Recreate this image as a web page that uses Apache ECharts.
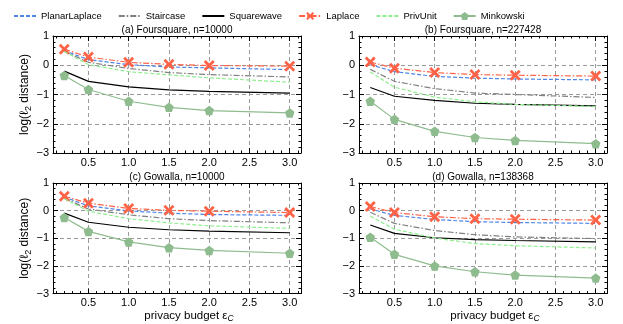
<!DOCTYPE html>
<html><head><meta charset="utf-8">
<script src="https://cdn.jsdelivr.net/npm/echarts@6/dist/echarts.min.js"></script>
<style>html,body{margin:0;padding:0;background:#fff}#c{width:623px;height:324px}</style>
</head><body><div id="c"></div>
<script>
const eps = [0.2, 0.5, 1.0, 1.5, 2.0, 3.0];
const xTickLabels = [0.5, 1.0, 1.5, 2.0, 2.5, 3.0];
const xMinorTicks = [0.1,0.2,0.3,0.4,0.6,0.7,0.8,0.9,1.1,1.2,1.3,1.4,1.6,1.7,1.8,1.9,2.1,2.2,2.3,2.4,2.6,2.7,2.8,2.9,3.1];
const yTickLabels = [-3, -2, -1, 0, 1];
const panelTitles = ['(a) Foursquare, n=10000', '(b) Foursquare, n=227428', '(c) Gowalla, n=10000', '(d) Gowalla, n=138368'];
const seriesNames = ['PlanarLaplace', 'Staircase', 'Squarewave', 'Laplace', 'PrivUnit', 'Minkowski'];

// (a) Foursquare, n=10000
const a_PlanarLaplace = [0.50, 0.19, 0.02, -0.06, -0.09, -0.15];
const a_Staircase     = [0.48, 0.10, -0.11, -0.25, -0.32, -0.40];
const a_Squarewave    = [-0.20, -0.55, -0.74, -0.84, -0.89, -0.95];
const a_Laplace       = [0.55, 0.28, 0.10, 0.03, -0.01, -0.03];
const a_PrivUnit      = [0.47, 0.02, -0.22, -0.33, -0.43, -0.58];
const a_Minkowski     = [-0.35, -0.83, -1.23, -1.44, -1.55, -1.63];
// (b) Foursquare, n=227428
const b_PlanarLaplace = [0.02, -0.22, -0.38, -0.44, -0.47, -0.50];
const b_Staircase     = [-0.14, -0.55, -0.80, -0.95, -1.00, -1.10];
const b_Squarewave    = [-0.76, -1.06, -1.20, -1.30, -1.34, -1.39];
const b_Laplace       = [0.11, -0.10, -0.25, -0.32, -0.34, -0.37];
const b_PrivUnit      = [-0.23, -0.75, -1.09, -1.25, -1.34, -1.41];
const b_Minkowski     = [-1.23, -1.85, -2.26, -2.47, -2.57, -2.68];
// (c) Gowalla, n=10000
const c_PlanarLaplace = [0.49, 0.17, -0.01, -0.09, -0.14, -0.17];
const c_Staircase     = [0.45, 0.06, -0.15, -0.29, -0.36, -0.44];
const c_Squarewave    = [-0.09, -0.42, -0.60, -0.69, -0.74, -0.80];
const c_Laplace       = [0.52, 0.27, 0.08, 0.01, -0.02, -0.07];
const c_PrivUnit      = [0.43, -0.02, -0.29, -0.44, -0.55, -0.64];
const c_Minkowski     = [-0.25, -0.75, -1.13, -1.34, -1.44, -1.54];
// (d) Gowalla, n=138368
const d_PlanarLaplace = [0.06, -0.17, -0.32, -0.40, -0.43, -0.46];
const d_Staircase     = [-0.06, -0.46, -0.72, -0.87, -0.95, -1.01];
const d_Squarewave    = [-0.52, -0.82, -0.98, -1.05, -1.08, -1.13];
const d_Laplace       = [0.15, -0.07, -0.22, -0.29, -0.31, -0.34];
const d_PrivUnit      = [-0.20, -0.67, -0.99, -1.19, -1.27, -1.35];
const d_Minkowski     = [-0.96, -1.58, -2.00, -2.21, -2.33, -2.44];

const panelData = [
  [a_PlanarLaplace, a_Staircase, a_Squarewave, a_Laplace, a_PrivUnit, a_Minkowski],
  [b_PlanarLaplace, b_Staircase, b_Squarewave, b_Laplace, b_PrivUnit, b_Minkowski],
  [c_PlanarLaplace, c_Staircase, c_Squarewave, c_Laplace, c_PrivUnit, c_Minkowski],
  [d_PlanarLaplace, d_Staircase, d_Squarewave, d_Laplace, d_PrivUnit, d_Minkowski]
];

const FONT = '"Liberation Sans", Arial, Helvetica, sans-serif';
const xSym = 'path://M1.8,0 L5,3.2 L8.2,0 L10,1.8 L6.8,5 L10,8.2 L8.2,10 L5,6.8 L1.8,10 L0,8.2 L3.2,5 L0,1.8 Z';
const pentSym = 'path://M5,0 L10,3.7 L8.1,10 L1.9,10 L0,3.7 Z';
const styles = [
  {color: '#4f86e8', type: [4, 2], symbol: 'none'},
  {color: '#808080', type: [6, 2, 1.5, 2], symbol: 'none'},
  {color: '#000000', type: 'solid', symbol: 'none'},
  {color: '#ff6347', type: [6, 2, 1.5, 2], symbol: xSym, size: 11},
  {color: '#90ee90', type: [4, 2], symbol: 'none'},
  {color: '#8fbc8f', type: 'solid', symbol: pentSym, size: 9.5}
];

const grids = [
  {left: 53, top: 36, width: 248, height: 117},
  {left: 359, top: 36, width: 248, height: 117},
  {left: 53, top: 183, width: 248, height: 117},
  {left: 359, top: 183, width: 248, height: 117}
];
const XMIN = 0.06, XMAX = 3.14;

const xAxes = [], yAxes = [], series = [], titles = [];
grids.forEach((g, i) => {
  const bottomRow = i >= 2, leftCol = i % 2 === 0;
  const base = {type: 'value', gridIndex: i, min: XMIN, max: XMAX};
  xAxes.push(Object.assign({}, base, {
    position: 'bottom',
    axisLine: {show: true, onZero: false, lineStyle: {color: '#000', width: 1}},
    axisTick: {show: true, inside: true, length: 5, customValues: xTickLabels, lineStyle: {color: '#000'}},
    axisLabel: {show: true, customValues: xTickLabels, formatter: v => Number(v).toFixed(1), fontSize: 11, color: '#000', margin: 4, fontFamily: FONT},
    splitLine: {show: true, lineStyle: {color: '#9a9a9a', type: [4, 3], width: 1}},
    name: bottomRow ? 'privacy budget ε{s|C}' : '',
    nameLocation: 'middle', nameGap: 14,
    nameTextStyle: {fontSize: 11.5, color: '#000', fontFamily: FONT, padding: [0, 0, 0, 24],
      rich: {s: {fontSize: 8.5, fontStyle: 'italic', verticalAlign: 'bottom', padding: [6, 0, 0, 0], fontFamily: FONT}}}
  }));
  xAxes.push(Object.assign({}, base, {
    position: 'bottom',
    axisLine: {show: false, onZero: false},
    axisTick: {show: true, inside: true, length: 2.5, customValues: xMinorTicks, lineStyle: {color: '#000'}},
    axisLabel: {show: false}, splitLine: {show: false}
  }));
  xAxes.push(Object.assign({}, base, {
    position: 'top',
    axisLine: {show: true, onZero: false, lineStyle: {color: '#000', width: 1}},
    axisTick: {show: true, inside: true, length: 5, customValues: xTickLabels, lineStyle: {color: '#000'}},
    axisLabel: {show: false}, splitLine: {show: false}
  }));
  xAxes.push(Object.assign({}, base, {
    position: 'top',
    axisLine: {show: false, onZero: false},
    axisTick: {show: true, inside: true, length: 2.5, customValues: xMinorTicks, lineStyle: {color: '#000'}},
    axisLabel: {show: false}, splitLine: {show: false}
  }));
  const ybase = {type: 'value', gridIndex: i, min: yTickLabels[0], max: yTickLabels[yTickLabels.length - 1], interval: 1};
  yAxes.push(Object.assign({}, ybase, {
    position: 'left',
    axisLine: {show: true, onZero: false, lineStyle: {color: '#000', width: 1}},
    axisTick: {show: true, inside: true, length: 5, lineStyle: {color: '#000'}},
    minorTick: {show: true, splitNumber: 5, length: 2.5, lineStyle: {color: '#000'}},
    axisLabel: {show: true, formatter: v => String(v).replace('-', '\u2212'), fontSize: 11, color: '#000', margin: 4, fontFamily: FONT},
    splitLine: {show: true, lineStyle: {color: '#9a9a9a', type: [4, 3], width: 1}},
    name: leftCol ? 'log(ℓ{s|2} distance)' : '',
    nameLocation: 'middle', nameGap: 20,
    nameTextStyle: {fontSize: 12, color: '#000', fontFamily: FONT,
      rich: {s: {fontSize: 9, verticalAlign: 'bottom', padding: [6, 0, 0, 0], fontFamily: FONT}}}
  }));
  yAxes.push(Object.assign({}, ybase, {
    position: 'right',
    axisLine: {show: true, onZero: false, lineStyle: {color: '#000', width: 1}},
    axisTick: {show: true, inside: true, length: 5, lineStyle: {color: '#000'}},
    minorTick: {show: true, splitNumber: 5, length: 2.5, lineStyle: {color: '#000'}},
    axisLabel: {show: false}, splitLine: {show: false}
  }));
  titles.push({
    text: panelTitles[i], left: g.left + g.width / 2, top: g.top - 11, textAlign: 'center',
    padding: 0,
    textStyle: {fontSize: 10, fontWeight: 'normal', color: '#000', fontFamily: FONT}
  });
  seriesNames.forEach((nm, k) => {
    const st = styles[k];
    series.push({
      name: nm, type: 'line', xAxisIndex: i * 4, yAxisIndex: i * 2,
      data: eps.map((x, j) => [x, panelData[i][k][j]]),
      symbol: st.symbol, symbolSize: st.size || 0, showSymbol: st.symbol !== 'none',
      lineStyle: {color: st.color, type: st.type, width: 1.2},
      itemStyle: {color: st.color},
      emphasis: {disabled: true}, z: 2 + k
    });
  });
});

const legendData = seriesNames.map((nm, k) =>
  styles[k].symbol === 'none' ? {name: nm, itemStyle: {opacity: 0}} : {name: nm});

const chart = echarts.init(document.getElementById('c'), null, {renderer: 'canvas'});
chart.setOption({
  animation: false,
  backgroundColor: '#fff',
  title: titles,
  legend: {
    data: legendData, top: 6, left: 8, itemWidth: 22, itemHeight: 10, itemGap: 16,
    textStyle: {fontSize: 9.5, color: '#000', fontFamily: FONT}
  },
  grid: grids,
  xAxis: xAxes,
  yAxis: yAxes,
  series: series
});
</script>
</body></html>
